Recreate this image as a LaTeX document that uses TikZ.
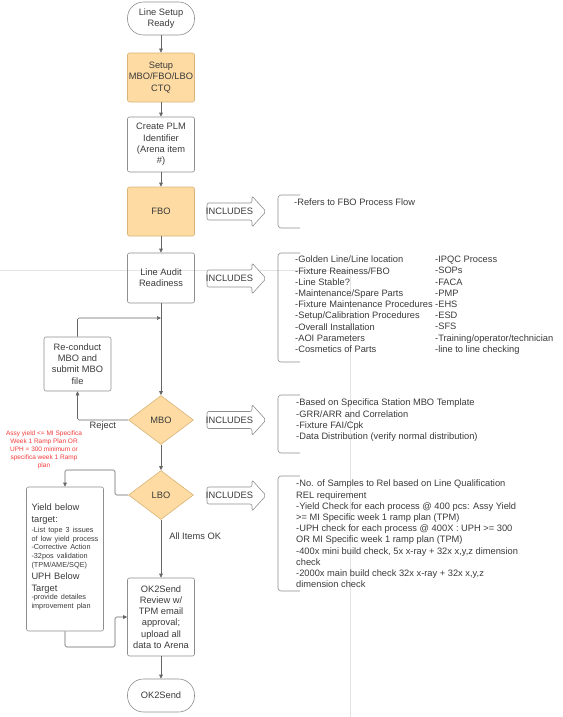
\documentclass[tikz,border=0pt]{standalone}
\usepackage{fontspec}
\setmainfont{Liberation Sans}
\usetikzlibrary{arrows.meta,calc,shapes.geometric}
\definecolor{orangec}{HTML}{FDDBA2}
\definecolor{orangeb}{HTML}{D8B478}
\definecolor{boxc}{HTML}{8E8E8E}
\definecolor{txt}{HTML}{3A3A3A}
\definecolor{conc}{HTML}{666666}
\definecolor{redc}{HTML}{F43B3B}
\definecolor{pagec}{HTML}{E4E4E4}
\newcommand{\fsn}{\fontsize{9.3}{11.2}\selectfont}
\newcommand{\fsm}{\fontsize{7.3}{8.6}\selectfont}
\newcommand{\fsr}{\fontsize{6.5}{8}\selectfont}
\begin{document}
\begin{tikzpicture}[x=1pt,y=-1pt,
  box/.style={draw=boxc, rounded corners=2pt, minimum width=67pt, align=center, font=\fsn, text=txt, inner sep=1pt, line width=0.6pt},
  obox/.style={box, fill=orangec, draw=orangeb},
  term/.style={box, rounded corners=16pt, minimum height=33pt},
  dia/.style={diamond, fill=orangec, draw=orangeb, line width=0.6pt, minimum width=65pt, minimum height=49pt, inner sep=0pt, font=\fsn, text=txt},
  conn/.style={draw=conc, line width=0.6pt, rounded corners=1.5pt, -{Triangle[length=4pt,width=3.6pt]}},
  lbl/.style={font=\fsn, text=txt, inner sep=1pt},
  inctext/.style={font=\fsn, text=txt, inner sep=0pt},
  incshape/.style={draw=boxc, fill=white, line width=0.6pt, rounded corners=2pt},
  brk/.style={draw=boxc, line width=0.6pt, rounded corners=3pt},
  btext/.style={font=\fsn, text=txt, align=left, anchor=north west, inner sep=0pt},
]
\useasboundingbox (0,0) rectangle (562,717);
% faint page boundary
\draw[pagec, line width=0.5pt] (0,270) -- (350,270) -- (350,717);

% main column
\node[term] (start) at (161,18.5) {Line Setup\\Ready};
\node[obox, minimum height=49pt] (setup) at (161,77.5) {Setup\\MBO/FBO/LBO\\CTQ};
\node[box, minimum height=55pt] (plm) at (161,144.5) {Create PLM\\Identifier\\(Arena item\\\#)};
\node[obox, minimum height=49pt] (fbo) at (161,211.5) {FBO};
\node[box, minimum height=50pt] (lar) at (161,278) {Line Audit\\Readiness};
\node[box, minimum height=54pt] (rec) at (77.5,364) {Re-conduct\\MBO and\\submit MBO\\file};
\node[dia] (mbo) at (161,420) {MBO};
\node[dia] (lbo) at (161,495) {LBO};
\node[box, minimum height=78pt] (okrev) at (161,617) {OK2Send\\Review w/\\TPM email\\approval;\\upload all\\data to Arena};
\node[term] (fin) at (161,695.5) {OK2Send};
\node[box, minimum width=76pt, minimum height=144pt, text width=71pt, inner xsep=3pt, align=left] (yield) at (65,559)
 {\hyphenpenalty=10000\exhyphenpenalty=10000\leftskip=2pt\fsn Yield below\\target:\par\vspace{2pt}\fsm -List tope 3 issues\\of low yield process\\-Corrective Action\\-32pos validation\\(TPM/AME/SQE)\par\vspace{1.5pt}\fsn UPH Below\\Target\par\fsm -provide detailes\\improvement plan\par\vspace{4pt}};

\node[font=\fsr, text=redc, align=center, inner sep=0pt] (note) at (44,450) {Assy yield <= MI Specifica\\Week 1 Ramp Plan OR\\UPH = 300 minimum or\\specifica week 1 Ramp\\plan};

% connectors
\draw[conn] (start) -- (setup);
\draw[conn] (setup) -- (plm);
\draw[conn] (plm) -- (fbo);
\draw[conn] (fbo) -- (lar);
\draw[conn] (lar) -- (mbo);
\coordinate (j1) at (161,318);
\draw[conn] (rec.north) |- (j1);
\draw[conn] (mbo.west) -| (rec.south) node[lbl, pos=0.25, below] (rej) {Reject};
\draw[conn] (mbo) -- (lbo);
\coordinate (c1) at (115,470);
\draw[conn] (lbo.west) -| (c1) -| (yield.north);
\coordinate (c2) at (115,647);
\draw[conn] (yield.south) |- (c2) |- (okrev.west);
\draw[conn] (lbo.south) -- (okrev.north) node[lbl, pos=0.29, anchor=west, xshift=7pt] (allok) {All Items OK};
\draw[conn] (okrev) -- (fin);

% INCLUDES arrows
\foreach \n/\yy in {ia/211.5, ib/278.5, ic/420, id/495.5}{
  \draw[incshape, shift={(236.5,\yy)}] (-29.5,-8.5) -- (15.5,-8.5) -- (15.5,-15.5) -- (29.5,0) -- (15.5,15.5) -- (15.5,8.5) -- (-29.5,8.5) -- cycle;
  \node[inctext] (\n) at (229.5,\yy) {INCLUDES};
}

% brackets
\draw[brk] (300,195) -- (278,195) -- (278,228) -- (300,228);
\draw[brk] (300,253) -- (278,253) -- (278,362) -- (300,362);
\draw[brk] (300,395) -- (278,395) -- (278,453) -- (300,453);
\draw[brk] (300,476) -- (278,476) -- (278,591) -- (300,591);

\node[btext] (tfbo) at (294,199) {-Refers to FBO Process Flow};
\node[btext] (tlar) at (295,256) {-Golden Line/Line location\\-Fixture Reainess/FBO\\-Line Stable?\\-Maintenance/Spare Parts\\-Fixture Maintenance Procedures\\-Setup/Calibration Procedures\\-Overall Installation\\-AOI Parameters\\-Cosmetics of Parts};
\node[btext] (tlar2) at (435,256) {-IPQC Process\\-SOPs\\-FACA\\-PMP\\-EHS\\-ESD\\-SFS\\-Training/operator/technician\\-line to line checking};
\node[btext] (tmbo) at (296,399) {-Based on Specifica Station MBO Template\\-GRR/ARR and Correlation\\-Fixture FAI/Cpk\\-Data Distribution (verify normal distribution)};
\node[btext] (tlbo) at (296,480) {-No. of Samples to Rel based on Line Qualification\\REL requirement\\-Yield Check for each process @ 400 pcs: Assy Yield\\>= MI Specific week 1 ramp plan (TPM)\\-UPH check for each process @ 400X : UPH >= 300\\OR MI Specific week 1 ramp plan (TPM)\\-400x mini build check, 5x x-ray + 32x x,y,z dimension\\check\\-2000x main build check 32x x-ray + 32x x,y,z\\dimension check};
\end{tikzpicture}
\end{document}
